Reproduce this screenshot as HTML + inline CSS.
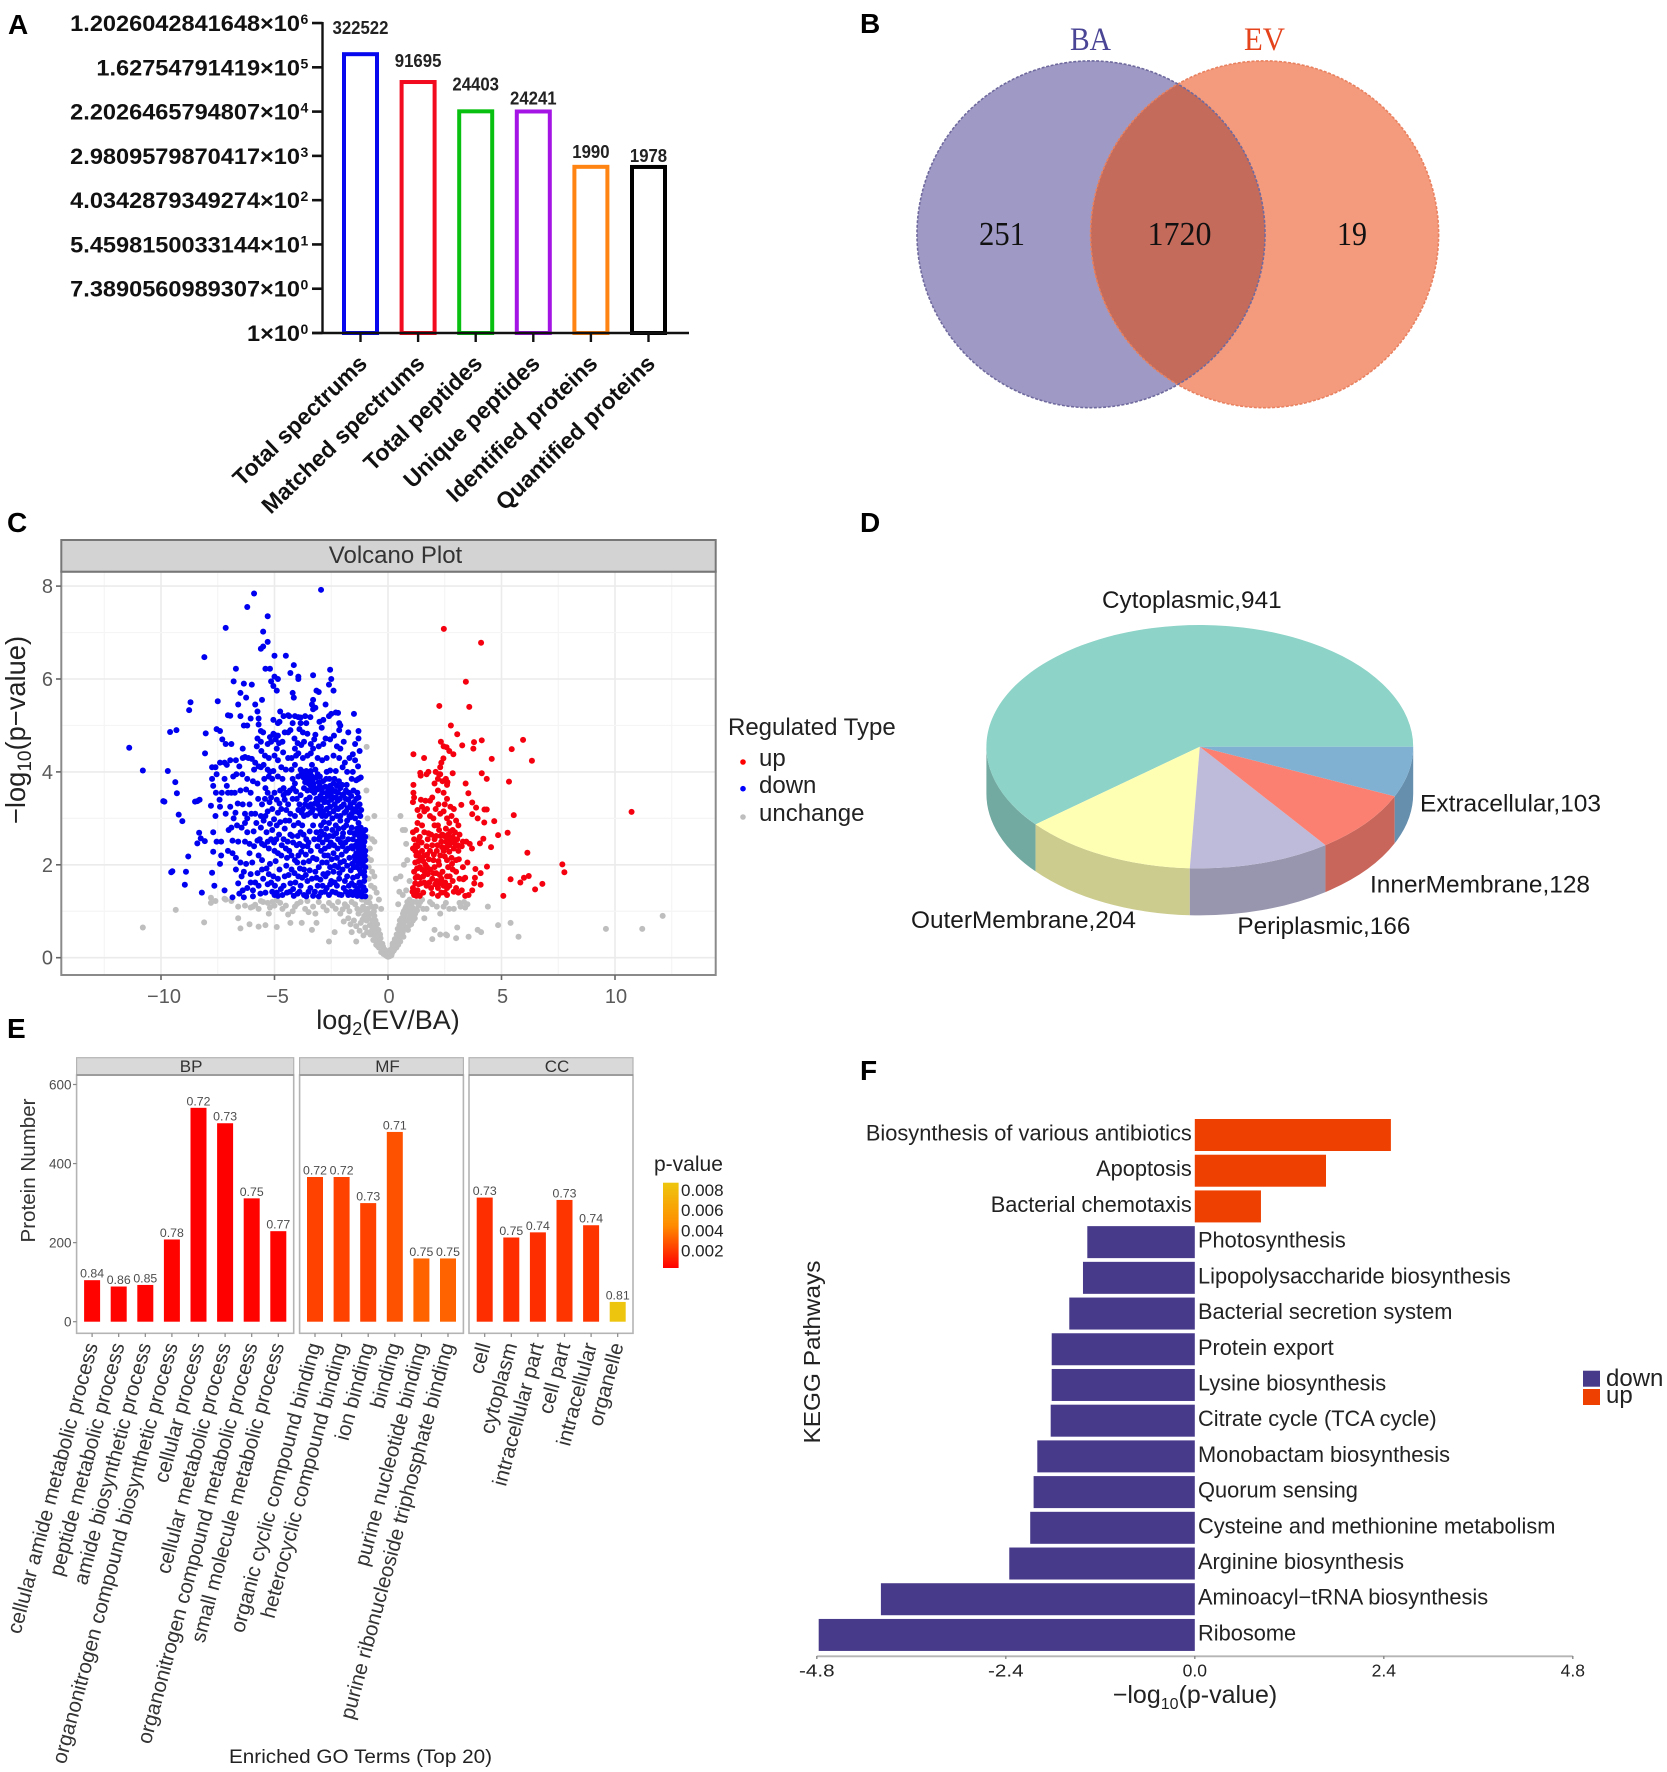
<!DOCTYPE html>
<html lang="en">
<head>
<meta charset="utf-8">
<title>Proteomics summary figure</title>
<style>
html,body{margin:0;padding:0;background:#fff;}
svg{display:block;font-family:"Liberation Sans",Arial,sans-serif;}
.serif{font-family:"Liberation Serif",serif;}
</style>
</head>
<body>
<svg id="figure" xmlns="http://www.w3.org/2000/svg" width="1667" height="1772" viewBox="0 0 1667 1772">
<rect width="1667" height="1772" fill="#fff"/>
<g font-weight="700" font-size="28" fill="#000">
<text x="8" y="34">A</text>
<text x="860" y="33">B</text>
<text x="7" y="532">C</text>
<text x="860" y="532">D</text>
<text x="7" y="1038">E</text>
<text x="860" y="1080">F</text>
</g>

<g id="panelA"></g>

<g id="panelB">
<defs><clipPath id="baClip"><ellipse cx="1091" cy="234.3" rx="174" ry="173.4"/></clipPath></defs>
<ellipse cx="1091" cy="234.3" rx="174" ry="173.4" fill="#9f9ac5"/>
<ellipse cx="1264.6" cy="234.3" rx="174" ry="173.4" fill="#f59b7d"/>
<ellipse cx="1264.6" cy="234.3" rx="174" ry="173.4" fill="#c46b5c" clip-path="url(#baClip)"/>
<ellipse cx="1264.6" cy="234.3" rx="174" ry="173.4" fill="none" stroke="#e8815f" stroke-width="1.6" stroke-dasharray="3 1.6"/>
<ellipse cx="1091" cy="234.3" rx="174" ry="173.4" fill="none" stroke="#6f6a9e" stroke-width="1.6" stroke-dasharray="3 1.6"/>
<g class="serif">
<text x="1090.5" y="50" font-size="33" text-anchor="middle" fill="#4b4596" textLength="41" lengthAdjust="spacingAndGlyphs">BA</text>
<text x="1264.5" y="50" font-size="33" text-anchor="middle" fill="#e5431c" textLength="41" lengthAdjust="spacingAndGlyphs">EV</text>
<text x="1002" y="245" font-size="34" text-anchor="middle" fill="#111" textLength="46" lengthAdjust="spacingAndGlyphs">251</text>
<text x="1179.5" y="245" font-size="34" text-anchor="middle" fill="#111" textLength="64" lengthAdjust="spacingAndGlyphs">1720</text>
<text x="1352" y="245" font-size="34" text-anchor="middle" fill="#111" textLength="30" lengthAdjust="spacingAndGlyphs">19</text>
</g>
</g>

<g id="panelC">
<rect x="61.3" y="571.7" width="654.4" height="403.3" fill="#fff"/>
<g id="volcanoGrid"></g>
<g id="volcanoPoints"></g>
<rect x="61.3" y="571.7" width="654.4" height="403.3" fill="none" stroke="#8a8a8a" stroke-width="2"/>
<rect x="61.3" y="540" width="654.4" height="31.7" fill="#d3d3d3" stroke="#777" stroke-width="2"/>
<text x="395.5" y="563" font-size="24" text-anchor="middle" fill="#333">Volcano Plot</text>
<g id="volcanoTicks"></g>
<text x="388" y="1029" font-size="27" text-anchor="middle" fill="#222">log<tspan font-size="18" dy="6">2</tspan><tspan dy="-6">(EV/BA)</tspan></text>
<text transform="translate(25,730) rotate(-90)" font-size="27.3" text-anchor="middle" fill="#222">−log<tspan font-size="19" dy="6">10</tspan><tspan dy="-6">(p−value)</tspan></text>
<g>
<text x="728" y="735" font-size="24" fill="#222">Regulated Type</text>
<circle cx="743" cy="762" r="2.8" fill="#ff0000"/>
<text x="759" y="766" font-size="24" fill="#222">up</text>
<circle cx="743" cy="788.7" r="2.8" fill="#0000ff"/>
<text x="759" y="793" font-size="24" fill="#222">down</text>
<circle cx="743" cy="817" r="2.8" fill="#bebebe"/>
<text x="759" y="821" font-size="24" fill="#222">unchange</text>
</g>
</g>

<g id="panelD"></g>

<g id="panelE">
<defs><linearGradient id="pGrad" x1="0" y1="1" x2="0" y2="0"><stop offset="0" stop-color="#ff0000"/><stop offset="0.5" stop-color="#ff8c00"/><stop offset="1" stop-color="#eec60e"/></linearGradient></defs>
<text transform="translate(35,1170.5) rotate(-90)" font-size="20" text-anchor="middle" fill="#333" textLength="144" lengthAdjust="spacingAndGlyphs">Protein Number</text>
<text x="360.5" y="1763" font-size="19.5" text-anchor="middle" fill="#222" textLength="263" lengthAdjust="spacingAndGlyphs">Enriched GO Terms (Top 20)</text>
<text x="654" y="1171" font-size="21" fill="#222">p-value</text>
<rect x="663" y="1182.7" width="15.6" height="85.3" fill="url(#pGrad)"/>
</g>

<g id="panelF">
<text transform="translate(820,1352) rotate(-90)" font-size="23" text-anchor="middle" fill="#222" textLength="183" lengthAdjust="spacingAndGlyphs">KEGG Pathways</text>
<text x="1195" y="1703" font-size="25" text-anchor="middle" fill="#222">−log<tspan font-size="16" dy="6">10</tspan><tspan dy="-6">(p-value)</tspan></text>
<rect x="1583" y="1370.7" width="17" height="16" fill="#483a8a"/>
<text x="1606" y="1386" font-size="24" fill="#222">down</text>
<rect x="1583" y="1389" width="17" height="16" fill="#ee4000"/>
<text x="1606" y="1403" font-size="24" fill="#222">up</text>
</g>
</svg>

<script>
/* ---------- Panel A data ---------- */
const summaryCategories = ['Total spectrums','Matched spectrums','Total peptides','Unique peptides','Identified proteins','Quantified proteins'];
const summaryValues = [322522,91695,24403,24241,1990,1978];
const summaryColors = ['#0808ee','#f20a1e','#08c010','#a414e4','#ff8412','#000000'];
const summaryTickMantissas = ['1','7.3890560989307','5.4598150033144','4.0342879349274','2.9809579870417','2.2026465794807','1.62754791419','1.2026042841648'];
const summaryTickExponents = [0,0,1,2,3,4,5,6];

/* ---------- Panel C data: [log2(EV/BA), -log10(p)] ---------- */
const unchangedPoints = [[-10.8,.65],[-9.35,1.03],[-8.1,.76],[-7.8,1.29],[-7.8,1.18],[-7.2,1.27],[-7.15,1.25],[-6.6,1.1],[-6.6,.85],[-6.5,.63],[-6.1,.72],[-5.95,1.1],[-5.7,.67],[-5.4,.7],[-5.7,1.05],[-5.5,1.2],[-5.3,1.18],[-5.25,.95],[-5.1,1.2],[-4.9,1.24],[-4.9,.66],[-4.65,1.05],[-4.4,.93],[-4.3,.75],[-4.1,1.1],[-3.85,1.2],[-3.8,.75],[-3.5,.98],[-3.35,.6],[-3.2,.95],[-3.15,.75],[-2.6,.35],[-2.6,1.18],[-2.35,.55],[-2.3,1.05],[-2.1,.95],[-1.9,1.15],[-1.8,1.1],[-1.75,.85],[-1.6,.55],[-1.6,1.2],[-1.4,.35],[-1.5,.8],[-1.35,1.05],[-1.3,.95],[-1.2,.75],[-1.15,1.25],[-1.1,1.1],[-1.05,.9],[-1,.65],[-.95,1.2],[-.9,1.05],[-.85,.85],[-.8,.7],[-.8,1.3],[-.75,.95],[-.7,.6],[-.7,.8],[-.65,.5],[-.6,.7],[-.6,.9],[-.55,.45],[-.5,.6],[-.5,.35],[-.45,.5],[-.45,.25],[-.4,.4],[-.35,.3],[-.35,.5],[-.3,.2],[-.25,.3],[-.25,.12],[-.2,.2],[-.15,.12],[-.1,.05],[-.05,.08],[0,.02],[.05,.06],[.1,.1],[.15,.05],[.15,.18],[.2,.25],[.25,.15],[.25,.32],[.3,.25],[.35,.4],[.4,.3],[.4,.5],[.45,.4],[.5,.55],[.5,.7],[.55,.45],[.6,.65],[.6,.85],[.65,.55],[.7,.75],[.7,1],[.75,.9],[.8,.65],[.8,1.1],[.85,.8],[.85,1.2],[.9,1],[.95,.7],[.95,1.25],[1,.9],[1.05,1.1],[1.1,.8],[1.15,1.05],[1.2,.95],[1.25,1.2],[1.35,1.12],[1.5,1.25],[1.6,.85],[1.7,1.05],[1.85,1.2],[1.95,.4],[2.05,.6],[2.15,1.1],[2.3,.95],[2.3,.5],[2.45,1.1],[2.55,.5],[2.6,.48],[2.9,1.05],[3.05,.65],[3.2,1.1],[3.35,1.2],[3.4,1.08],[3.5,1.15],[3.55,.45],[3.95,.6],[4.1,.55],[4.4,1.1],[4.85,.7],[5.4,.75],[5.75,.45],[9.6,.62],[11.2,.62],[12.1,.9],[-.94,4.54],[-.95,3.6],[-.9,3],[-.6,3.05],[-.9,2.6],[-.7,2.55],[-.6,2.5],[-.8,2.35],[-.9,2.15],[-.75,2.1],[-.85,1.95],[-.7,1.85],[-.6,1.75],[-.85,1.7],[-.6,1.5],[-.75,1.55],[-.5,1.4],[-.4,1.25],[-.55,1.1],[-.3,1.05],[.55,3.05],[.75,2.75],[.65,2.75],[.8,2.45],[.85,2.1],[.7,2],[.55,1.75],[.35,1.7],[.5,1.42],[.8,1.45],[.95,1.65],[.65,1.35],[.45,1.15],
[-7.6,1.22],[-6.9,1.22],[-6.3,1.12],[-6.05,1.08],[-5.85,1.14],[-5.6,1.22],[-5.2,1.08],[-5,1.12],[-4.75,1.18],[-4.5,1.12],[-4.2,1],[-4,1.16],[-3.65,1.05],[-3.55,1.22],[-3.3,1.1],[-3.05,1.2],[-2.85,1.1],[-2.7,1.02],[-2.45,1.12],[-2.2,1.2],[-2,1.04],[-1.95,.78],[-1.7,1],[-1.65,.72],[-1.45,1.15],[-1.4,.68],[-1.25,.58],[-1.2,1.02],[-1.12,.82],[-1.08,.48],[-1,1.02],[-.95,.8],[-.92,.55],[-.88,.95],[-.82,1.18],[-.78,.5],[-.72,1.1],[-.68,.72],[-.65,.38],[-.62,1],[-.58,.58],[-.55,.8],[-.52,.28],[-.48,.72],[-.46,.42],[-.42,.6],[-.4,.22],[-.38,.35],[-.33,.42],[-.3,.12],[-.28,.3],[-.22,.24],[-.2,.08],[-.16,.18],[-.12,.1],[-.08,.14],[-.04,.03],[.02,.1],[.07,.03],[.08,.16],[.12,.14],[.18,.1],[.2,.3],[.22,.2],[.28,.18],[.3,.4],[.33,.3],[.37,.22],[.38,.5],[.43,.62],[.45,.28],[.48,.45],[.52,.8],[.54,.35],[.58,.55],[.62,.75],[.66,.95],[.68,.45],[.72,.62],[.76,1.05],[.78,.8],[.82,.98],[.88,.6],[.9,1.15],[.92,.85],[.98,1.05],[1.02,.72],[1.08,.98],[1.12,1.2],[1.18,.85],[1.28,1.02],[1.42,1.2],[1.55,1.05],[1.95,1.15],[2.55,1.18],[2.7,1.05],[3,.42],[3.15,1.18]];
const downPoints = [[-5.9,7.84],[-2.95,7.92],[-6.2,7.55],[-5.3,7.35],[-7.15,7.1],[-5.5,7.02],[-5.3,6.8],[-5.5,6.7],[-5.6,6.65],[-5,6.5],[-4.5,6.5],[-8.09,6.47],[-4.15,6.3],[-6.7,6.22],[-5.4,6.22],[-5.2,6.22],[-4.3,6.13],[-3.95,6.05],[-3.95,6],[-3.3,6.08],[-2.55,6.2],[-2.5,6],[-5,6.05],[-4.85,6],[-5.15,5.95],[-5.05,5.85],[-6.8,5.95],[-6.35,5.9],[-6,5.88],[-4.9,5.75],[-2.6,5.88],[-2.4,5.75],[-6.5,5.7],[-6.25,5.6],[-5.55,5.55],[-4.2,5.7],[-4.15,5.6],[-3.15,5.75],[-3.05,5.72],[-3.3,5.55],[-3.35,5.45],
[-8.76,5.33],[-8.7,5.5],[-7.5,5.52],[-7.05,5.22],[-6.95,5.21],[-6.6,5.45],[-6.5,5.2],[-6.05,5.15],[-5.85,5.45],[-5.75,5.3],[-5.7,5.15],[-5.05,5.12],[-4.85,5.05],[-4.75,5.3],[-4.6,5.2],[-4.4,5.22],[-4.35,5.2],[-4.2,5.05],[-4.1,5.2],[-3.95,5.18],[-3.85,5.17],[-3.65,5.2],[-3.6,5.05],[-3.3,5.35],[-3.2,5.38],[-2.75,5.45],[-2.6,5.2],[-2.5,5.25],[-2.3,5.28],[-2.2,5.27],[-1.5,5.25],[-3.85,5.05],[-2.15,5.05],[-2.1,5],
[-8.03,4.83],[-7.55,4.92],[-7.4,4.88],[-6.35,5],[-6.2,5],[-5.7,5.02],[-5.6,4.88],[-5.5,4.85],[-5.75,4.72],[-5.6,4.65],[-5.05,4.82],[-5,4.8],[-4.95,4.7],[-4.85,4.78],[-5.2,4.75],[-5.3,4.6],[-5.15,4.65],[-4.8,4.62],[-4.65,4.65],[-4.3,4.9],[-4.4,4.85],[-3.9,4.92],[-3.75,4.85],[-3.55,4.82],[-3.2,4.8],[-3.25,4.7],[-2.55,4.7],[-2.15,4.9],[-1.75,4.85],[-1.3,4.88],[-1.3,4.72],[-1.45,4.6],[-7.15,4.6],[-7.3,4.7],[-6.9,4.6],[-2.25,4.55],[-2.1,4.5],[-3.4,4.6],[-3.3,4.5],[-4.9,4.5],[-4.1,4.5],
[-11.4,4.52],[-10.8,4.03],[-9.7,4.02],[-9.6,4.86],[-9.32,4.9],[-8.06,4.4],[-6.4,4.5],[-7.4,4.2],[-7.6,4.1],[-7.75,4.1],[-7.2,4.2],[-7.1,4.15],[-6.95,4.25],[-6.7,4.25],[-6.4,4.3],[-6.3,4.32],[-6.15,4.3],[-6,4.28],[-5.85,4.2],[-5.7,4.12],[-5.6,4.1],[-5.25,4.3],[-5,4.35],[-4.85,4.25],[-4.7,4.1],[-5.3,4.05],[-5.2,4],[-5.05,4.02],[-4.4,4.3],[-4.25,4.3],[-4.05,4.35],[-3.95,4.4],[-3.75,4.3],[-3.55,4.35],[-3.4,4.4],[-3.1,4.3],[-2.9,4.25],[-2.7,4.3],[-2.4,4.35],[-2.15,4.3],[-1.9,4.2],[-1.7,4.3],[-1.45,4.25],[-3.35,4.15],[-4.5,4.05],[-4.25,4.05],[-4.1,4.15],[-3.85,4.05],[-3.7,4],[-3.6,4.02],[-3.4,4.02],[-3.2,4.05],[-2.7,4],[-2.55,4.03],[-2.3,4.02],[-2,4.1],[-1.8,4],[-1.55,4],
[-9.37,3.78],[-9.3,3.54],[-7.75,3.85],[-7.7,3.7],[-7.2,3.85],[-7.55,3.95],[-7.1,3.7],[-6.75,3.55],[-6.9,3.55],[-6.5,3.6],[-6.25,3.62],[-6.05,3.55],[-6.2,3.85],[-5.95,3.8],[-5.75,3.75],[-5.45,3.85],[-5.25,3.9],[-5.1,3.85],[-5.4,3.65],[-5.3,3.55],[-5,3.55],[-4.85,3.9],[-4.65,3.85],[-4.6,3.65],[-4.5,3.55],[-4.4,3.55],[-4.2,3.85],[-3.95,3.9],[-3.8,3.95],[-3.6,3.85],[-3.5,3.9],[-3.3,3.85],[-3.1,3.95],[-3,3.9],[-3.7,3.65],[-3.55,3.6],[-3.4,3.7],[-3.25,3.55],[-3.2,3.65],[-3,3.7],[-2.9,3.55],[-2.7,3.55],[-2.55,3.7],[-2.4,3.75],[-2.25,3.7],[-2.1,3.65],[-1.85,3.6],[-1.6,3.85],[-1.4,3.82],[-1.2,3.88],[-1.3,3.85],[-2.2,3.55],[-2,3.5],[-1.35,3.55],[-1.3,3.45],[-4.1,3.75],[-3.85,3.5],[-4.75,3.6],[-4.6,3.5],[-3.5,3.75],[-3.35,3.6],[-3.45,3.45],
[-9.9,3.37],[-9.85,3.36],[-8.5,3.36],[-8.4,3.37],[-8.3,3.4],[-7.8,3.27],[-7.4,3.25],[-7.15,3.1],[-7.6,3.05],[-6.8,3],[-6.4,3.3],[-6.1,3.3],[-6.3,3.1],[-6.2,3],[-5.85,3.1],[-5.6,3.05],[-5.4,3.05],[-5.3,3.15],[-5.1,3.2],[-5.55,3.3],[-5.15,3.45],[-4.9,3.4],[-4.7,3.2],[-4.4,3.3],[-4.3,3.1],[-4.1,3.05],[-3.9,3.3],[-3.75,3.2],[-3.7,3.05],[-3.5,3.25],[-3.35,3.15],[-3.2,3.05],[-3.05,3.2],[-3,3.4],[-2.8,3.35],[-2.7,3.2],[-2.6,3.1],[-2.5,3.4],[-2.35,3.3],[-2.2,3.2],[-2.1,3.05],[-1.95,3.3],[-1.85,3.15],[-1.7,3.05],[-1.5,3.35],[-1.35,3.25],[-1.25,3.3],[-1.45,3],[-1.6,3.1],[-2.9,3.05],[-2.45,3],[-3.6,3.4],[-4.55,3.4],[-3.1,3.3],[-2.95,3.25],[-2.85,3.15],[-2.65,3.35],[-2.55,3.25],[-2.4,3.15],[-2.3,3.45],[-2.75,3.05],[-2.25,3.05],[-3.4,3.3],[-3.3,3.2],[-1.75,3.4],[-1.65,3.3],[-3.65,3.3],
[-9.22,3.08],[-9.06,2.94],[-8.32,2.69],[-8.25,2.57],[-8.4,2.46],[-8.07,2.51],[-7.7,2.7],[-7.55,2.5],[-7.35,2.5],[-6.9,2.8],[-6.65,2.85],[-6.45,2.8],[-6.3,2.9],[-6.2,2.7],[-6.3,2.5],[-6.1,2.45],[-5.8,2.9],[-5.6,2.8],[-5.35,2.7],[-5.1,2.75],[-4.9,2.85],[-4.8,2.65],[-4.6,2.55],[-4.35,2.95],[-4.15,2.85],[-3.95,2.9],[-3.85,2.7],[-3.6,2.55],[-3.3,2.85],[-3.15,2.7],[-2.95,2.85],[-2.8,2.65],[-2.6,2.9],[-2.45,2.75],[-2.3,2.85],[-2.1,2.95],[-1.95,2.8],[-1.8,2.95],[-1.6,2.8],[-1.45,2.65],[-1.3,2.9],[-1.2,2.8],[-1.1,2.7],[-1.3,2.7],[-1.15,2.55],[-1.35,2.5],[-1.75,2.55],[-2,2.6],[-2.2,2.55],[-4.3,2.65],[-5.15,2.55],[-5.3,2.5],[-2.7,2.55],[-3,2.6],[-1.55,2.55],[-1.25,2.6],[-1,2.75],[-1,2.6],
[-8.8,2.18],[-7.7,2.28],[-7.35,2.2],[-7.05,2.3],[-6.85,2.25],[-6.7,2.15],[-6.1,2.25],[-5.9,2.4],[-5.7,2.2],[-5.55,2.1],[-5.25,2.35],[-5,2.3],[-4.85,2.25],[-4.7,2.2],[-4.5,2.35],[-4.35,2.3],[-4.25,2.2],[-4.1,2.1],[-3.9,2.45],[-3.75,2.4],[-3.55,2.4],[-3.4,2.3],[-3.3,2.15],[-3.1,2.4],[-2.95,2.3],[-2.8,2.2],[-2.6,2.4],[-2.4,2.25],[-2.25,2.15],[-2,2.4],[-1.85,2.3],[-1.7,2.15],[-1.55,2.35],[-1.4,2.25],[-1.3,2.35],[-1.2,2.3],[-1.1,2.25],[-1.3,2.15],[-1.2,2.1],[-1.1,2.15],[-1,2.3],[-1,2.1],[-4.45,2.15],[-3.95,2.2],[-4,2.05],[-2.1,2.05],[-1.45,2.1],
[-9.55,1.84],[-9.5,1.86],[-8.9,1.85],[-8.95,1.57],[-8.2,1.4],[-7.75,1.83],[-7.65,1.55],[-7.4,2.02],[-7.2,1.45],[-6.85,1.3],[-6.7,1.9],[-6.45,1.75],[-6.6,1.6],[-6.35,1.85],[-6.2,1.5],[-6.35,1.3],[-6.05,1.8],[-5.95,1.45],[-5.95,1.32],[-5.7,1.55],[-5.55,1.9],[-5.5,1.7],[-5.4,1.4],[-5.25,1.8],[-5.05,1.75],[-5.1,1.42],[-5,1.35],[-4.85,1.7],[-4.6,1.55],[-4.45,1.4],[-4.25,1.9],[-4.3,1.6],[-4.15,1.33],[-3.95,1.75],[-3.85,1.55],[-3.7,1.9],[-3.55,1.65],[-3.5,1.42],[-3.35,1.7],[-3.2,1.85],[-3.1,1.55],[-2.95,1.4],[-2.75,1.75],[-2.7,1.5],[-2.55,1.95],[-2.5,1.65],[-2.4,1.85],[-2.3,1.4],[-2.15,1.7],[-2,1.9],[-1.95,1.5],[-1.8,1.75],[-1.75,1.35],[-1.6,1.6],[-1.5,1.95],[-1.45,1.42],[-1.35,1.75],[-1.25,1.9],[-1.2,1.55],[-1.15,1.32],[-1.05,1.85],[-1.05,1.65],[-1,1.45],[-2.6,1.35],[-3.3,1.33],[-3.7,1.35],[-4.85,1.33],[-4.9,1.4],[-2.15,1.36],[-1.35,1.33],[-2.85,1.8],[-3.05,1.95],[-2.2,1.95],
[-3.8,3.98],[-3.72,3.88],[-3.65,3.78],[-3.58,3.95],[-3.42,3.82],[-3.38,3.92],[-3.28,3.75],[-3.18,3.88],[-3.12,3.62],[-3.05,3.78],[-2.98,3.48],[-2.92,3.62],[-2.86,3.8],[-2.82,3.42],[-2.76,3.68],[-2.72,3.85],[-2.66,3.48],[-2.62,3.62],[-2.58,3.85],[-2.52,3.52],[-2.46,3.62],[-2.42,3.45],[-2.36,3.85],[-2.32,3.58],[-2.28,3.22],[-2.22,3.38],[-2.16,3.8],[-2.12,3.42],[-2.06,3.25],[-2.02,3.72],[-1.96,3.52],[-1.92,3.12],[-1.86,3.42],[-1.82,3.72],[-1.78,3.22],[-1.72,3.55],[-1.66,3.02],[-1.62,3.48],[-1.56,3.2],[-1.52,3.6],[-1.42,3.15],[-1.4,3.42],[-1.28,3.12],[-1.22,3.05],[-1.18,3.18],[-3.15,3.42],[-3.22,3.32],[-2.98,3.1],[-3.42,3.12],[-3.55,3.08],[-3.8,3.12],[-3.95,3.18],[-4.02,3.42],[-4.2,3.42],[-4.32,3.6],[-4.18,3.65],[-4.05,3.58],
[-2.95,2.72],[-2.88,2.48],[-2.82,2.92],[-2.78,2.35],[-2.72,2.78],[-2.65,2.2],[-2.58,2.62],[-2.52,2.48],[-2.48,2.12],[-2.42,2.62],[-2.38,2.42],[-2.34,1.98],[-2.28,2.68],[-2.22,2.35],[-2.18,2.78],[-2.14,1.82],[-2.08,2.48],[-2.04,2.22],[-1.98,2.68],[-1.94,2.08],[-1.9,1.65],[-1.88,2.48],[-1.84,2.85],[-1.8,1.98],[-1.76,2.35],[-1.72,1.55],[-1.68,2.7],[-1.64,1.88],[-1.6,2.4],[-1.58,2.02],[-1.54,1.72],[-1.5,2.68],[-1.48,2.18],[-1.46,1.55],[-1.42,2.42],[-1.38,1.95],[-1.36,2.78],[-1.34,1.48],[-1.32,2.02],[-1.28,2.42],[-1.26,1.62],[-1.24,2.22],[-1.22,2.5],[-1.2,1.82],[-1.18,2.02],[-1.16,2.4],[-1.14,1.42],[-1.12,2.62],[-1.1,1.98],[-1.08,2.4],[-1.08,1.52],[-1.06,2.08],[-1.04,2.5],[-1.03,1.75],[-1.02,2.2],[-1,1.95],[-1,1.32],[-1.25,1.38],[-1.55,1.35],[-1.65,1.42],[-1.85,1.42],[-2.05,1.35],[-2.25,1.55],[-2.35,1.62],[-2.45,1.42],[-2.55,1.58],[-2.65,1.82],[-2.78,1.42],[-2.88,1.55],[-2.98,1.68],[-3.05,1.32],[-3.15,1.72],[-3.22,1.42],[-3.45,1.88],[-2.7,2.05],[-2.9,2.05],[-3.15,2.12],
[-3.62,2.22],[-3.72,2.05],[-3.48,2.08],[-3.82,2.28],[-3.05,2.55],[-3.25,2.55],[-3.45,2.72],[-3.5,2.48],[-3.72,2.65],[-3.78,2.85],[-3.98,2.62],[-4.02,2.42],[-4.18,2.48],[-4.22,2.62],[-4.42,2.5],[-4.55,2.78],[-4.68,2.42],[-4.75,2.92],[-4.92,2.55],[-5.02,2.48],[-5.2,2.88],[-5.45,2.42],[-3.62,1.78],[-3.78,1.72],[-3.88,1.92],[-4.08,1.62],[-4.12,1.82],[-4.18,1.48],[-4.32,1.42],[-4.38,1.78],[-4.48,1.98],[-4.55,1.75],[-4.65,1.35],[-4.72,1.48],[-4.78,1.9],[-4.95,2.08],[-4.98,1.55],[-5.15,1.62],[-5.2,2.02],[-5.3,1.58],[-5.35,1.92],[-5.62,1.38],[-5.75,1.82],[-5.85,1.62],[-5.98,2.05],[-6.05,1.62],[-6.25,2.02],[-6.4,1.45],[-6.5,2.05],[-6.55,1.38],[-3.98,1.38],[-3.9,1.42],[-3.6,1.32],[-3.42,1.5],
[-6.02,3.1],[-5.92,2.72],[-5.72,3.42],[-5.65,2.55],[-5.48,2.95],[-5.42,3.42],[-5.22,3.35],[-5.02,2.98],[-4.85,3.12],[-4.78,3.32],[-4.48,3.18],[-4.52,2.95],[-6.62,3.32],[-6.72,3.12],[-6.95,3.25],[-7.05,3.55],[-7.32,3.55],[-7.42,3.4],[-7.58,3.55],[-6.6,2.5],[-6.85,2.52],[-7.02,2.75],[-5.55,2.45],[-5.75,2.52],[-6.42,3.95],[-6.55,4.12],[-6.68,3.95],[-6.82,3.9],[-5.9,4.05],[-5.48,4.15],[-5.42,4.35],[-5.58,4.45],[-5.78,4.55],[-4.62,4.42],[-4.55,4.85],[-4.12,4.72],[-3.98,4.62],[-3.82,4.58],[-3.7,4.65],[-3.05,4.55],[-2.85,4.6],[-2.92,4.95],[-2.75,4.72],[-2.38,4.78],[-1.95,4.65],[-1.55,4.38],[-1.25,4.45],[-1.32,4.12],[-2.85,5.12],[-3.02,5.08],[-3.42,5.18],[-4.78,5.08]];
const upPoints = [[2.46,7.08],[4.1,6.78],[3.43,5.94],[2.26,5.42],[3.58,5.4],[2.77,5],[3.05,4.81],[5.95,4.69],[4.13,4.68],[3.79,4.64],[2.33,4.65],[3.27,4.57],[3.76,4.5],[5.45,4.49],[2.58,4.53],[2.45,4.55],[2.7,4.45],[2.88,4.38],[4.57,4.28],[6.34,4.24],[2.44,4.29],[2.35,4.2],[2.3,4.1],[1.12,4.38],[1.59,4.3],[4.13,3.97],[2.85,3.97],[4.35,3.85],[5.33,3.79],[3.42,3.75],[3.54,3.54],[3.71,3.34],[3.23,3.29],[3.88,3.23],[4.25,3.19],[4.35,3.19],[10.73,3.14],[5.54,3.07],[3.71,3.09],[3.95,3],[4.68,2.94],[4.24,2.91],[5.27,2.69],[4.85,2.64],[4.2,2.56],[4.05,2.46],[4.54,2.38],[6.14,2.26],[7.68,2.01],[7.77,1.84],[4.36,1.96],[3.85,1.91],[4.08,1.82],[3.83,1.72],[5.4,1.69],[6.2,1.76],[5.99,1.72],[5.83,1.62],[6.8,1.59],[6.48,1.47],[5.08,1.33],[3.71,1.45],[4.08,1.57],[3.8,1.6],[3.4,1.72],[3.32,1.69],
[1.42,3.98],[1.44,3.92],[1.78,4],[1.7,3.95],[2.1,4],[2.25,3.95],[2.2,3.85],[2.4,3.8],[2.55,3.85],[2.6,3.72],[2.05,3.75],[1.12,3.72],[1.12,3.55],[1.15,3.45],[1.1,3.35],[1.65,3.38],[1.85,3.38],[1.95,3.45],[2.2,3.6],[2.45,3.55],[2.6,3.42],[2.5,3.3],[2.75,3.25],[2.9,3.2],[1.6,3.15],[1.4,3.05],[1.3,2.9],[1.85,3.05],[2,3],[2.05,2.85],[2.3,3.1],[2.45,3.15],[2.6,3],[2.8,3.05],[3,2.95],[3.1,2.85],[2.7,2.9],[2.2,2.85],[1.5,2.85],[1.1,2.7],[1.15,2.55],[1.4,2.6],[1.6,2.7],[1.75,2.55],[1.9,2.65],[2.05,2.55],[2.25,2.75],[2.4,2.65],[2.55,2.78],[2.65,2.65],[2.75,2.72],[2.85,2.6],[2.95,2.7],[3.05,2.55],[3.15,2.65],[3.3,2.5],[3.45,2.5],[3.6,2.45],[3.7,2.35],[2.55,2.5],[2.35,2.5],[2.7,2.42],[2.9,2.35],[3.1,2.3],[3.25,2.4],[1.1,2.35],[1.3,2.4],[1.5,2.3],[1.7,2.4],[1.25,2.2],[1.45,2.15],[1.6,2.2],[1.85,2.3],[2,2.1],[2.15,2.3],[2.3,2.2],[2.45,2.3],[2.6,2.1],[2.8,2.15],[3,2.1],[3.3,1.95],[3.5,2.05],[1.2,2.05],[1.4,1.95],[1.65,2],[1.85,1.9],[2.05,1.95],[2.25,2],[2.4,1.85],[2.65,1.95],[2.85,1.9],[3,1.85],[1.15,1.85],[1.3,1.75],[1.55,1.75],[1.75,1.8],[1.95,1.7],[2.15,1.65],[2.35,1.7],[2.6,1.75],[2.85,1.65],[3.15,1.7],[1.2,1.6],[1.45,1.6],[1.7,1.55],[1.9,1.5],[2.2,1.5],[2.45,1.55],[2.7,1.55],[3,1.5],[1.1,1.5],[1.3,1.45],[1.55,1.4],[1.15,1.35],[1.25,1.33],[1.4,1.33],[1.95,1.38],[2.2,1.33],[2.35,1.4],[2.5,1.4],[2.6,1.35],[3.1,1.4],[3.25,1.45],[3.4,1.33],[3.55,1.35],
[1.25,2.75],[1.35,2.52],[1.22,2.42],[1.48,2.48],[1.2,2.3],[1.35,2.25],[1.55,2.08],[1.72,2.22],[1.78,2.68],[1.8,2.12],[1.95,2.42],[2.02,2.22],[2.12,2.62],[2.18,2.42],[2.22,2.08],[2.32,2.62],[2.38,2.38],[2.48,2.62],[2.5,2.18],[2.58,2.38],[2.62,2.55],[2.7,2.28],[2.75,2.58],[2.78,2.48],[2.82,2.02],[2.85,2.75],[2.92,2.5],[2.98,2.42],[3.08,2.42],[3.12,2.12],[1.35,2.08],[1.28,1.92],[1.5,1.9],[1.62,1.85],[1.72,1.95],[1.42,1.72],[1.22,1.72],[1.6,1.62],[1.35,1.58],[1.82,1.62],[2,1.82],[2.12,1.82],[2.28,1.78],[2.52,1.62],[2.72,1.75],[1.08,1.42],[1.2,1.42],[1.32,1.35],[2.08,1.58],[2.3,1.6],[2.6,1.5],[2.9,1.42],[1.3,3.18],[1.5,3.25],[1.45,3.4],[1.72,3.2],[2.1,3.2],[2.22,3.3],[2.62,3.78],[2.3,3.95]];
const volcanoXTicks = [-10,-5,0,5,10];
const volcanoYTicks = [0,2,4,6,8];

/* ---------- Panel D data ---------- */
const pieCategories = ['Cytoplasmic','OuterMembrane','Periplasmic','InnerMembrane','Extracellular'];
const pieValues = [941,204,166,128,103];
const pieTopColors = ['#8dd3c7','#ffffb3','#bebada','#fb8072','#80b1d3'];
const pieSideColors = ['#72a9a1','#cccc8f','#9896ae','#c9665b','#668fae'];

/* ---------- Panel E data ---------- */
const goFacets = ['BP','MF','CC'];
const goTermsBP = ['cellular amide metabolic process','peptide metabolic process','amide biosynthetic process','organonitrogen compound biosynthetic process','cellular process','cellular metabolic process','organonitrogen compound metabolic process','small molecule metabolic process'];
const goTermsMF = ['organic cyclic compound binding','heterocyclic compound binding','ion binding','binding','purine nucleotide binding','purine ribonucleoside triphosphate binding'];
const goTermsCC = ['cell','cytoplasm','intracellular part','cell part','intracellular','organelle'];
const goCountsBP = [105,89,93,208,541,502,312,229];
const goCountsMF = [366,366,300,480,160,160];
const goCountsCC = [314,213,226,308,244,50];
const goScoresBP = ['0.84','0.86','0.85','0.78','0.72','0.73','0.75','0.77'];
const goScoresMF = ['0.72','0.72','0.73','0.71','0.75','0.75'];
const goScoresCC = ['0.73','0.75','0.74','0.73','0.74','0.81'];
const goPValuesBP = [.0003,.0003,.0003,.0003,.0002,.0002,.0003,.0003];
const goPValuesMF = [.0022,.0022,.0022,.0027,.0032,.0032];
const goPValuesCC = [.0016,.0016,.0016,.0018,.0018,.0086];
const goYTicks = [0,200,400,600];
const goLegendTicks = [.002,.004,.006,.008];

/* ---------- Panel F data ---------- */
const keggPathways = ['Biosynthesis of various antibiotics','Apoptosis','Bacterial chemotaxis','Photosynthesis','Lipopolysaccharide biosynthesis','Bacterial secretion system','Protein export','Lysine biosynthesis','Citrate cycle (TCA cycle)','Monobactam biosynthesis','Quorum sensing','Cysteine and methionine metabolism','Arginine biosynthesis','Aminoacyl\u2212tRNA biosynthesis','Ribosome'];
const keggValues = [2.49,1.666,.84,-1.365,-1.42,-1.594,-1.817,-1.817,-1.83,-2,-2.047,-2.09,-2.356,-3.986,-4.776];
const keggXTicks = [-4.8,-2.4,0,2.4,4.8];

const SVGNS = 'http://www.w3.org/2000/svg';
function mk(tag, attrs, parent){
  const e = document.createElementNS(SVGNS, tag);
  for(const k in attrs) e.setAttribute(k, attrs[k]);
  parent.appendChild(e);
  return e;
}
function label(parent, x, y, str, size, fill, anchor){
  const e = mk('text', {x:x, y:y, 'font-size':size, fill:fill, 'text-anchor':anchor||'start'}, parent);
  e.textContent = str;
  return e;
}
function widen(e, f){
  e.setAttribute('textLength', (e.getComputedTextLength()*f).toFixed(1));
  e.setAttribute('lengthAdjust', 'spacingAndGlyphs');
}

/* ---------- Panel A ---------- */
(function(){
  const g = document.getElementById('panelA');
  const yA = v => 333 - Math.log(v)*22.14;
  const tickX = i => 360.5 + i*57.6;
  const labelGap = [18,13,19,5,7,3];
  summaryValues.forEach(function(v,i){
    const top = yA(v);
    const bar = mk('rect',{x:tickX(i)-16.5,y:top+2,width:33,height:333-top-2,fill:'#fff',stroke:summaryColors[i],'stroke-width':4},g);
    
    
    const t = label(g,tickX(i),top-labelGap[i],String(v),18,'#222','middle');
    t.setAttribute('font-weight','700');
    
    
    widen(t,0.93);
    const tk = mk('line',{x1:tickX(i),x2:tickX(i),y1:333,y2:342,stroke:'#111','stroke-width':2.4},g);
    
    
    const xl = label(g,0,0,summaryCategories[i],23,'#111','end');
    xl.setAttribute('font-weight','700');
    xl.setAttribute('transform','translate('+(tickX(i)+8)+',365) rotate(-44)');
    
    
  });
  const yAxis = mk('line',{x1:322.5,x2:322.5,y1:22,y2:334,stroke:'#111','stroke-width':2.4},g);
  
  
  const xAxis = mk('line',{x1:312,x2:689,y1:333,y2:333,stroke:'#111','stroke-width':2.4},g);
  
  
  summaryTickMantissas.forEach(function(m,i){
    const val = Number(m)*Math.pow(10,summaryTickExponents[i]);
    const y = yA(val);
    const tk = mk('line',{x1:312,x2:322.5,y1:y,y2:y,stroke:'#111','stroke-width':2.6},g);
    
    
    const t = label(g,300,y+8,m+'×10',22,'#111','end');
    t.setAttribute('font-weight','700');
    
    
    widen(t,1.07);
    const s = label(g,300.5,y+1,String(summaryTickExponents[i]),14,'#111','start');
    s.setAttribute('font-weight','700');
    
    
  });
})();

/* ---------- Panel C ---------- */
(function(){
  const xV = v => 388 + v*22.7;
  const yV = v => 957.7 - v*46.45;
  const grid = document.getElementById('volcanoGrid');
  const pts = document.getElementById('volcanoPoints');
  const ticks = document.getElementById('volcanoTicks');
  for(let x=-12.5;x<=12.5;x+=2.5){
    const major = x%5===0;
    const ln = mk('line',{x1:xV(x),x2:xV(x),y1:572,y2:975,stroke:major?'#ebebeb':'#f5f5f5','stroke-width':major?1.6:1.2},grid);
    
    
  }
  for(let y=0;y<=8;y+=1){
    const major = y%2===0;
    const ln = mk('line',{x1:62,x2:715,y1:yV(y),y2:yV(y),stroke:major?'#ebebeb':'#f5f5f5','stroke-width':major?1.6:1.2},grid);
    
    
  }
  unchangedPoints.forEach(function(p){
    const c = mk('circle',{cx:xV(p[0]),cy:yV(p[1]),r:3,fill:'#bebebe'},pts);
    
    
  });
  downPoints.forEach(function(p){
    const c = mk('circle',{cx:xV(p[0]),cy:yV(p[1]),r:3,fill:'#0000f0'},pts);
    
    
  });
  upPoints.forEach(function(p){
    const c = mk('circle',{cx:xV(p[0]),cy:yV(p[1]),r:3,fill:'#f5000f'},pts);
    
    
  });
  volcanoXTicks.forEach(function(v){
    const tk = mk('line',{x1:xV(v),x2:xV(v),y1:975,y2:980,stroke:'#666','stroke-width':1.6},ticks);
    
    
    const t = label(ticks,xV(v)+(v<0?3:1),1003,(v<0?'\u2212':'')+Math.abs(v),20,'#5a5a5a','middle');
    
    
  });
  volcanoYTicks.forEach(function(v){
    const tk = mk('line',{x1:56,x2:61,y1:yV(v),y2:yV(v),stroke:'#666','stroke-width':1.6},ticks);
    
    
    const t = label(ticks,53,yV(v)+7,String(v),20,'#5a5a5a','end');
    
    
  });
})();

/* ---------- Panel D ---------- */
(function(){
  const g = document.getElementById('panelD');
  const cx = 1199.8, cy = 746.7, rx = 213.4, ry = 121.7, depth = 47;
  const total = pieValues.reduce((a,b)=>a+b,0);
  const px = a => cx + rx*Math.cos(a);
  const py = a => cy - ry*Math.sin(a);
  let start = 0;
  const spans = pieValues.map(function(v){
    const s = [start, start + v/total*2*Math.PI];
    start = s[1];
    return s;
  });
  spans.forEach(function(s,i){
    const a0 = Math.max(s[0],Math.PI), a1 = Math.min(s[1],2*Math.PI);
    if(a1<=a0) return;
    const d = 'M'+px(a0)+' '+py(a0)+'A'+rx+' '+ry+' 0 0 0 '+px(a1)+' '+py(a1)+'L'+px(a1)+' '+(py(a1)+depth)+'A'+rx+' '+ry+' 0 0 1 '+px(a0)+' '+(py(a0)+depth)+'Z';
    const side = mk('path',{d:d,fill:pieSideColors[i]},g);
    
    
  });
  spans.forEach(function(s,i){
    const large = (s[1]-s[0])>Math.PI?1:0;
    const d = 'M'+cx+' '+cy+'L'+px(s[0])+' '+py(s[0])+'A'+rx+' '+ry+' 0 '+large+' 0 '+px(s[1])+' '+py(s[1])+'Z';
    const top = mk('path',{d:d,fill:pieTopColors[i]},g);
    
    
  });
  const labelBoxes = [[1102,608,179.6],[911,928,225],[1237.4,934,173],[1370,892.7,220],[1420,811.7,181]];
  pieCategories.forEach(function(c,i){
    const t = label(g,labelBoxes[i][0],labelBoxes[i][1],c+','+pieValues[i],24.5,'#1a1a1a','start');
    t.setAttribute('textLength',labelBoxes[i][2]);
    t.setAttribute('lengthAdjust','spacingAndGlyphs');
    
    
  });
})();

/* ---------- Panel E ---------- */
(function(){
  const g = document.getElementById('panelE');
  const yE = v => 1321.7 - v*0.39533;
  const facetBoxes = [[76.6,293.7],[299.6,463.4],[469,633]];
  const facetFirstBar = [92.1,315,484.7];
  const facetTerms = [goTermsBP,goTermsMF,goTermsCC];
  const facetCounts = [goCountsBP,goCountsMF,goCountsCC];
  const facetScores = [goScoresBP,goScoresMF,goScoresCC];
  const facetP = [goPValuesBP,goPValuesMF,goPValuesCC];
  function colorP(p){
    const f = Math.min(1,Math.max(0,(p-0.0002)/0.0085));
    let r,gr,b;
    if(f<.5){r=255;gr=140*f*2;b=0;}
    else{const k=(f-.5)*2;r=255+(238-255)*k;gr=140+(198-140)*k;b=14*k;}
    return 'rgb('+Math.round(r)+','+Math.round(gr)+','+Math.round(b)+')';
  }
  goFacets.forEach(function(name,fi){
    const box = facetBoxes[fi];
    const panel = mk('rect',{x:box[0],y:1075,width:box[1]-box[0],height:258.3,fill:'#fff',stroke:'#b4b4b4','stroke-width':1.6},g);
    
    
    const strip = mk('rect',{x:box[0],y:1057.7,width:box[1]-box[0],height:17.3,fill:'#d9d9d9',stroke:'#b4b4b4','stroke-width':1.2},g);
    
    
    const stripLine = mk('line',{x1:box[0],x2:box[1],y1:1075,y2:1075,stroke:'#8c8c8c','stroke-width':1.6},g);
    
    
    const st = label(g,(box[0]+box[1])/2+6,1072,name,17,'#333','middle');
    
    
    facetTerms[fi].forEach(function(term,i){
      const cxb = facetFirstBar[fi]+i*26.6;
      const v = facetCounts[fi][i];
      const bar = mk('rect',{x:cxb-8,y:yE(v),width:16,height:yE(0)-yE(v),fill:colorP(facetP[fi][i])},g);
      
      
      const vl = label(g,cxb,yE(v)-2.5,facetScores[fi][i],12.3,'#4d4d4d','middle');
      
      
      const tk = mk('line',{x1:cxb,x2:cxb,y1:1333.3,y2:1337,stroke:'#888','stroke-width':1.2},g);
      
      
      const tl = label(g,0,0,term,20.7,'#333','end');
      tl.setAttribute('transform','translate('+(cxb+6)+',1345) rotate(-75)');
      
      
    });
  });
  goYTicks.forEach(function(v){
    const tk = mk('line',{x1:73,x2:76.6,y1:yE(v),y2:yE(v),stroke:'#888','stroke-width':1.2},g);
    
    
    const t = label(g,71.5,yE(v)+5,String(v),13.5,'#4d4d4d','end');
    
    
  });
  goLegendTicks.forEach(function(p){
    const y = 1190 + (0.008-p)/0.002*20.2;
    const t = label(g,681,y+6,p.toFixed(3),17,'#222','start');
    
    
  });
})();

/* ---------- Panel F ---------- */
(function(){
  const g = document.getElementById('panelF');
  const xF = v => 1194.8 + v*78.75;
  const rowTop = i => 1119 + i*35.71;
  keggPathways.forEach(function(name,i){
    const v = keggValues[i];
    const bar = mk('rect',{x:Math.min(xF(0),xF(v)),y:rowTop(i),width:Math.abs(xF(v)-xF(0)),height:32,fill:v<0?'#483a8a':'#ee4000'},g);
    
    
    const t = v<0 ? label(g,1198,rowTop(i)+21.5,name,21.8,'#222','start') : label(g,1191.8,rowTop(i)+21.5,name,21.8,'#222','end');
    
    
  });
  const axis = mk('line',{x1:xF(-4.8),x2:xF(4.8),y1:1656.3,y2:1656.3,stroke:'#b5b5b5','stroke-width':1.8},g);
  
  
  keggXTicks.forEach(function(v){
    const tk = mk('line',{x1:xF(v),x2:xF(v),y1:1656,y2:1659,stroke:'#888','stroke-width':1.4},g);
    
    
    const t = label(g,xF(v),1676.7,v.toFixed(1),17.5,'#222','middle');
    
    
    if(v<0) widen(t,1.18);
  });
})();
</script>
</body>
</html>
